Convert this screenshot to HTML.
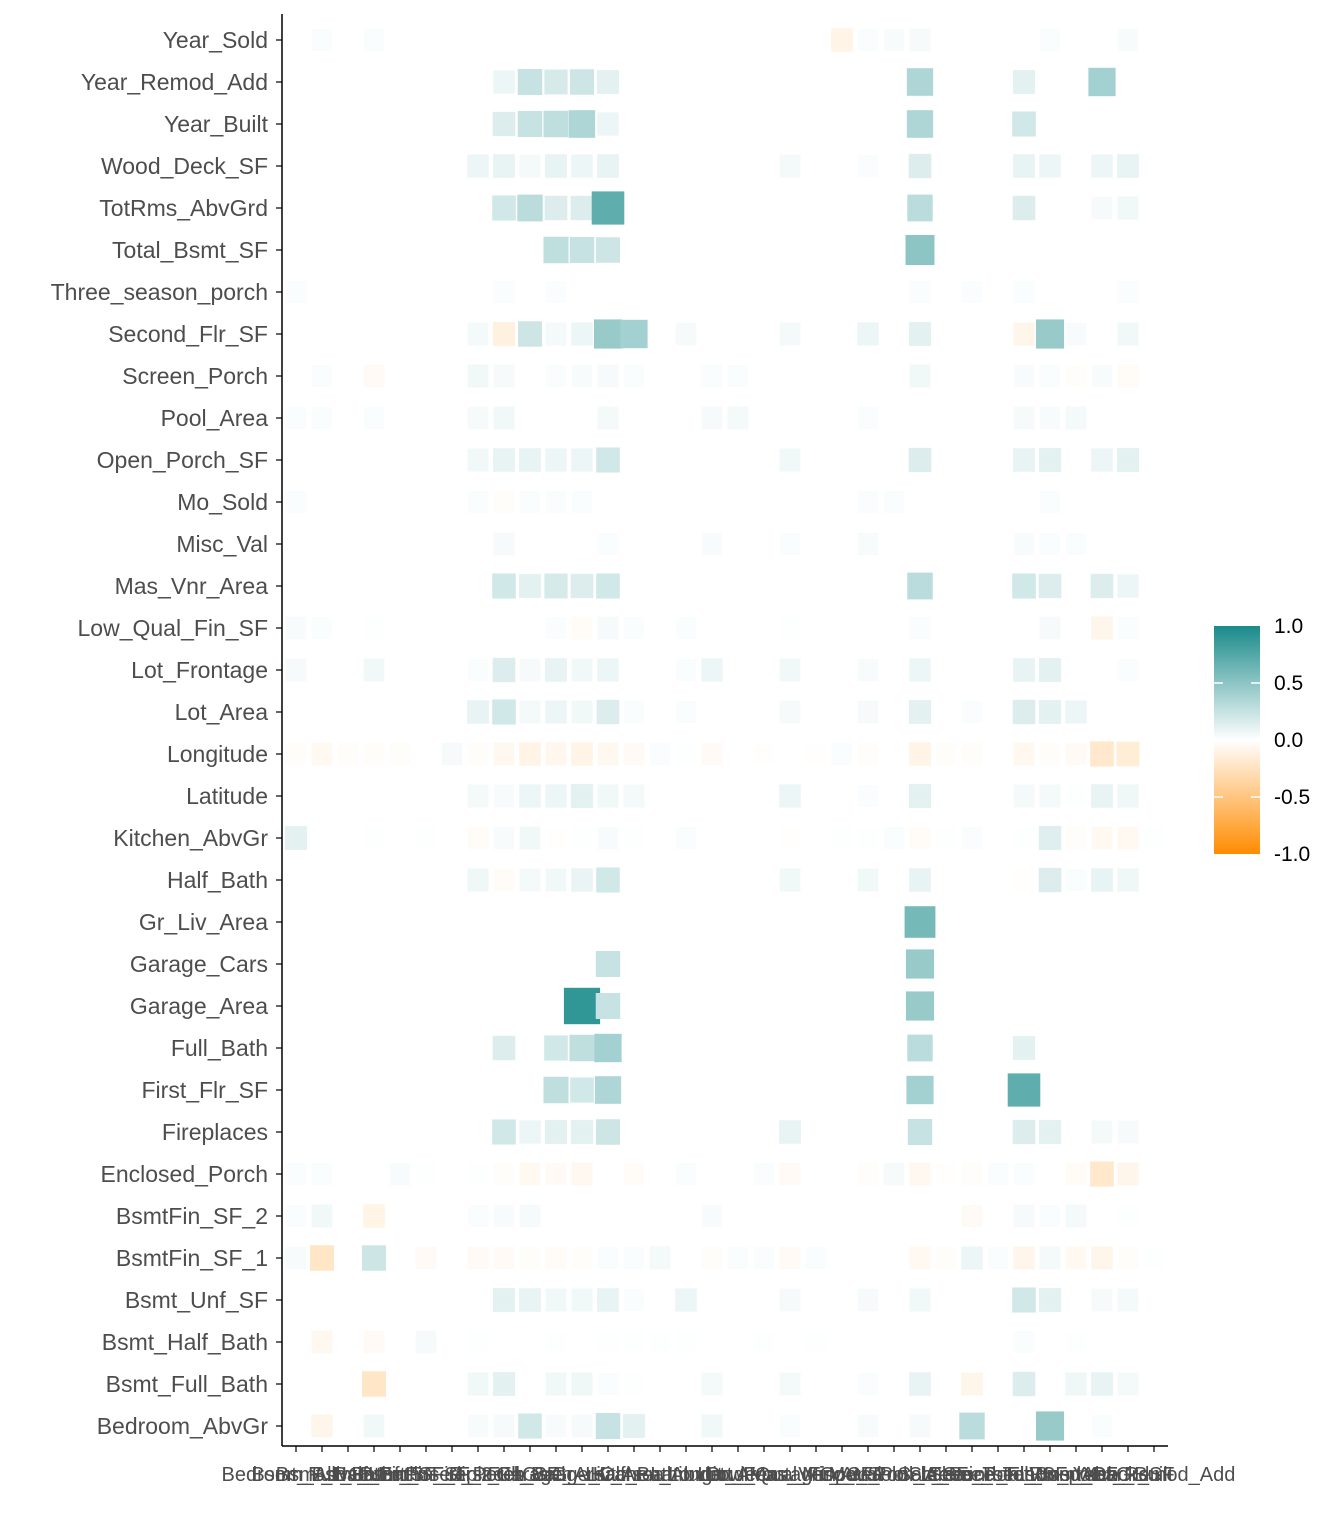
<!DOCTYPE html>
<html><head><meta charset="utf-8"><style>
body{margin:0;background:#fff;}
svg{display:block;font-family:"Liberation Sans",Arial,sans-serif;}
</style></head><body>
<svg id="chart" width="1344" height="1536">
<defs><linearGradient id="lg" x1="0" y1="0" x2="0" y2="1">
<stop offset="0" stop-color="#1a8a8a"/><stop offset="0.5" stop-color="#ffffff"/><stop offset="1" stop-color="#ff8c00"/></linearGradient></defs>
<g id="cells"></g>
<g id="axes"></g>
<g>
<rect x="1214" y="626" width="46" height="228" fill="url(#lg)"/>
<g stroke="#fff" stroke-width="1.5">
<line x1="1214" y1="683" x2="1223" y2="683"/><line x1="1251" y1="683" x2="1260" y2="683"/>
<line x1="1214" y1="740" x2="1223" y2="740"/><line x1="1251" y1="740" x2="1260" y2="740"/>
<line x1="1214" y1="797" x2="1223" y2="797"/><line x1="1251" y1="797" x2="1260" y2="797"/>
</g>
<g font-size="21" fill="#000">
<text x="1274" y="633">1.0</text>
<text x="1274" y="690">0.5</text>
<text x="1274" y="747">0.0</text>
<text x="1274" y="804">-0.5</text>
<text x="1274" y="861">-1.0</text>
</g></g>
</svg>
<script>
const rowNames=["Year_Sold","Year_Remod_Add","Year_Built","Wood_Deck_SF","TotRms_AbvGrd","Total_Bsmt_SF","Three_season_porch","Second_Flr_SF","Screen_Porch","Pool_Area","Open_Porch_SF","Mo_Sold","Misc_Val","Mas_Vnr_Area","Low_Qual_Fin_SF","Lot_Frontage","Lot_Area","Longitude","Latitude","Kitchen_AbvGr","Half_Bath","Gr_Liv_Area","Garage_Cars","Garage_Area","Full_Bath","First_Flr_SF","Fireplaces","Enclosed_Porch","BsmtFin_SF_2","BsmtFin_SF_1","Bsmt_Unf_SF","Bsmt_Half_Bath","Bsmt_Full_Bath","Bedroom_AbvGr"];
const colNames=["Bedroom_AbvGr","Bsmt_Full_Bath","Bsmt_Half_Bath","Bsmt_Unf_SF","BsmtFin_SF_1","BsmtFin_SF_2","Enclosed_Porch","Fireplaces","First_Flr_SF","Full_Bath","Garage_Area","Garage_Cars","Gr_Liv_Area","Half_Bath","Kitchen_AbvGr","Latitude","Longitude","Lot_Area","Lot_Frontage","Low_Qual_Fin_SF","Mas_Vnr_Area","Misc_Val","Mo_Sold","Open_Porch_SF","Pool_Area","Sale_Price","Screen_Porch","Second_Flr_SF","Three_season_porch","Total_Bsmt_SF","TotRms_AbvGrd","Wood_Deck_SF","Year_Built","Year_Remod_Add"];
const rowVals=[
"1:0.02,3:0.02,21:-0.1,22:0.02,23:0.03,24:0.04,29:0.02,32:0.03",
"8:0.08,9:0.25,10:0.18,11:0.22,12:0.12,24:0.35,28:0.12,31:0.4",
"8:0.15,9:0.25,10:0.28,11:0.35,12:0.08,24:0.35,28:0.2",
"7:0.08,8:0.1,9:0.05,10:0.1,11:0.08,12:0.1,19:0.05,22:0.02,24:0.15,28:0.1,29:0.08,31:0.08,32:0.1",
"8:0.2,9:0.3,10:0.15,11:0.15,12:0.7,24:0.3,28:0.15,31:0.04,32:0.06",
"10:0.28,11:0.25,12:0.22,24:0.5",
"0:0.02,8:0.02,10:0.02,24:0.02,26:0.02,28:0.02,32:0.02",
"7:0.05,8:-0.12,9:0.22,10:0.05,11:0.08,12:0.45,13:0.4,15:0.04,19:0.05,22:0.08,24:0.12,28:-0.08,29:0.45,30:0.03,32:0.06",
"1:0.02,3:-0.04,7:0.06,8:0.04,10:0.02,11:0.03,12:0.04,13:0.02,16:0.02,17:0.02,24:0.06,28:0.03,29:0.02,30:-0.02,31:0.03,32:-0.03",
"0:0.02,1:0.02,3:0.02,7:0.04,8:0.06,12:0.05,16:0.04,17:0.05,22:0.02,28:0.04,29:0.03,30:0.05",
"7:0.06,8:0.1,9:0.1,10:0.08,11:0.08,12:0.2,19:0.06,24:0.15,28:0.1,29:0.12,31:0.08,32:0.12",
"0:0.02,7:0.02,8:-0.02,9:0.02,10:0.02,11:0.02,22:0.02,23:0.02,29:0.02",
"8:0.04,12:0.02,16:0.03,19:0.02,22:0.03,28:0.03,29:0.02,30:0.02",
"8:0.2,9:0.12,10:0.18,11:0.15,12:0.2,24:0.3,28:0.2,29:0.15,31:0.15,32:0.08",
"0:0.03,1:0.02,3:0.01,10:0.02,11:-0.03,12:0.04,13:0.02,15:0.02,19:0.01,24:0.02,29:0.04,31:-0.08,32:0.02",
"0:0.04,3:0.06,7:0.02,8:0.15,9:0.04,10:0.1,11:0.06,12:0.08,15:0.02,16:0.08,19:0.06,22:0.03,24:0.08,28:0.1,29:0.12,32:0.02",
"7:0.1,8:0.2,9:0.05,10:0.08,11:0.06,12:0.15,13:0.02,15:0.02,19:0.04,22:0.04,24:0.12,26:0.02,28:0.15,29:0.12,30:0.08",
"0:-0.02,1:-0.05,2:-0.02,3:-0.02,4:-0.02,6:0.04,7:-0.02,8:-0.06,9:-0.1,10:-0.07,11:-0.1,12:-0.06,13:-0.04,14:0.02,15:0.01,16:-0.04,18:-0.01,20:-0.01,21:0.02,22:-0.02,24:-0.1,25:-0.02,26:-0.02,28:-0.06,29:-0.02,30:-0.04,31:-0.2,32:-0.16",
"7:0.05,8:0.03,9:0.08,10:0.08,11:0.12,12:0.06,13:0.05,19:0.08,22:0.02,24:0.12,28:0.05,29:0.05,30:0.01,31:0.1,32:0.07",
"0:0.12,3:0.01,5:0.01,7:-0.03,8:0.03,9:0.06,10:-0.01,11:0.01,12:0.03,13:0.01,15:0.02,19:-0.01,21:0.01,22:0.01,23:0.02,24:-0.03,25:0.01,26:0.02,28:0.01,29:0.14,30:-0.02,31:-0.05,32:-0.05,33:0.01",
"7:0.07,8:-0.03,9:0.05,10:0.06,11:0.09,12:0.2,19:0.06,22:0.06,24:0.1,28:-0.01,29:0.15,30:0.02,31:0.1,32:0.07",
"24:0.6",
"12:0.25,24:0.45",
"11:0.9,12:0.25,24:0.45",
"8:0.15,10:0.2,11:0.28,12:0.4,24:0.3,28:0.12",
"10:0.28,11:0.2,12:0.35,24:0.4,28:0.7",
"8:0.2,9:0.08,10:0.12,11:0.12,12:0.22,19:0.1,24:0.25,28:0.15,29:0.12,31:0.05,32:0.04",
"0:0.02,1:0.02,4:0.03,5:0.01,7:0.01,8:-0.02,9:-0.05,10:-0.04,11:-0.06,13:-0.03,15:0.02,18:0.02,19:-0.04,22:-0.02,23:0.04,24:-0.06,25:-0.01,26:-0.02,27:0.02,28:0.02,30:-0.03,31:-0.2,32:-0.08",
"0:0.02,1:0.06,3:-0.1,7:0.02,8:0.03,9:0.04,16:0.03,26:-0.04,28:0.04,29:0.02,30:0.05,32:0.01",
"0:0.03,1:-0.22,3:0.22,5:-0.04,7:-0.04,8:-0.04,9:-0.02,10:-0.03,11:-0.02,12:0.02,13:0.02,14:0.05,16:-0.02,17:0.02,18:0.02,19:-0.04,20:0.02,24:-0.05,25:-0.02,26:0.08,27:0.02,28:-0.08,29:0.05,30:-0.05,31:-0.08,32:-0.02,33:0.01",
"8:0.12,9:0.1,10:0.06,11:0.06,12:0.1,13:0.02,15:0.08,19:0.04,22:0.04,24:0.06,28:0.2,29:0.12,31:0.04,32:0.05",
"1:-0.06,3:-0.04,5:0.04,7:0.01,10:0.01,12:0.01,13:0.01,14:0.01,15:0.01,18:0.01,20:0.01,28:0.02,30:0.01",
"3:-0.22,7:0.06,8:0.12,10:0.06,11:0.07,12:0.02,13:0.01,16:0.05,19:0.05,22:0.02,24:0.1,26:-0.08,28:0.15,30:0.07,31:0.1,32:0.05",
"1:-0.08,3:0.06,7:0.03,8:0.04,9:0.2,10:0.03,11:0.04,12:0.25,13:0.12,16:0.06,19:0.02,22:0.03,24:0.04,26:0.3,29:0.45,31:0.02"
];
const NS="http://www.w3.org/2000/svg";
const X0=282,X1=1168,Y0=14,Y1=1446;
function xPos(j){return 296+j*(1154-296)/(colNames.length-1);}
function yPos(i){return 40+i*(1426-40)/(rowNames.length-1);}
function color(v){
  const t=Math.min(1,Math.abs(v));
  const c=v>=0?[26,138,138]:[255,140,0];
  return "rgb("+c.map(k=>Math.round(255+(k-255)*t)).join(",")+")";
}
const cells=document.getElementById("cells");
rowVals.forEach((s,i)=>{
  s.split(",").forEach(p=>{
    const [j,v]=p.split(":").map(Number);
    const w=20+18*Math.abs(v), h=22+16*Math.abs(v);
    const r=document.createElementNS(NS,"rect");
    r.setAttribute("x",xPos(j)-w/2);r.setAttribute("y",yPos(i)-h/2);
    r.setAttribute("width",w);r.setAttribute("height",h);
    r.setAttribute("fill",color(v));
    
    
    cells.appendChild(r);
  });
});
const ax=document.getElementById("axes");
function ln(x1,y1,x2,y2,w){const l=document.createElementNS(NS,"line");l.setAttribute("x1",x1);l.setAttribute("y1",y1);l.setAttribute("x2",x2);l.setAttribute("y2",y2);l.setAttribute("stroke","#000");l.setAttribute("stroke-width",w);ax.appendChild(l);return l;}
const ya=ln(X0,Y0,X0,Y1,1.5);


const xa=ln(X0,Y1,X1,Y1,1.5);


rowNames.forEach((n,i)=>{
  ln(X0-6,yPos(i),X0,yPos(i),1.2);
  const t=document.createElementNS(NS,"text");
  t.setAttribute("x",268);t.setAttribute("y",yPos(i)+8);
  t.setAttribute("text-anchor","end");t.setAttribute("font-size","23");t.setAttribute("fill","#4d4d4d");
  t.textContent=n;
  
  
  ax.appendChild(t);
});
colNames.forEach((n,j)=>{
  ln(xPos(j),Y1,xPos(j),Y1+6,1.2);
  const t=document.createElementNS(NS,"text");
  t.setAttribute("x",xPos(j));t.setAttribute("y",1481);
  t.setAttribute("text-anchor","middle");t.setAttribute("font-size","20");t.setAttribute("fill","#4d4d4d");
  t.textContent=n;
  
  
  ax.appendChild(t);
});
</script>
</body></html>
